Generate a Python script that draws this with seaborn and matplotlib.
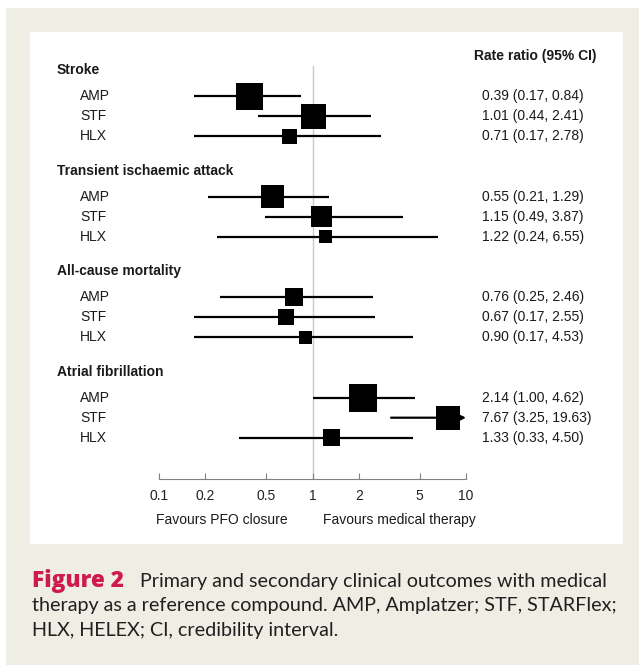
import numpy as np
import pandas as pd
import seaborn as sns
import matplotlib.pyplot as plt
import matplotlib.transforms as mtransforms
from matplotlib.patches import Rectangle


# outcomes / devices and the rate ratios
outcomes = ['Stroke', 'Transient ischaemic attack', 'All-cause mortality', 'Atrial fibrillation']
devices = ['AMP', 'STF', 'HLX']
rate_ratio = [0.39, 1.01, 0.71, 0.55, 1.15, 1.22, 0.76, 0.67, 0.90, 2.14, 7.67, 1.33]
ci_low = [0.17, 0.44, 0.17, 0.21, 0.49, 0.24, 0.25, 0.17, 0.17, 1.00, 3.25, 0.33]
ci_high = [0.84, 2.41, 2.78, 1.29, 3.87, 6.55, 2.46, 2.55, 4.53, 4.62, 19.63, 4.50]
# relative weight of each estimate (drives box size)
weight = [27, 25, 15, 23, 21, 13, 18, 16, 13, 28, 24, 17]

xticks = [0.1, 0.2, 0.5, 1, 2, 5, 10]
xticklabels = ['0.1', '0.2', '0.5', '1', '2', '5', '10']

caption_head = 'Figure 2'
caption_lines = ['Primary and secondary clinical outcomes with medical',
                 'therapy as a reference compound. AMP, Amplatzer; STF, STARFlex;',
                 'HLX, HELEX; CI, credibility interval.']


rows = []
for g, outcome in enumerate(outcomes):
    for d, dev in enumerate(devices):
        k = g * 3 + d
        rows.append({'outcome': outcome, 'device': dev, 'pos': g * 5 + d,
                     'rr': rate_ratio[k], 'lo': ci_low[k], 'hi': ci_high[k],
                     'area': (weight[k] * 0.72) ** 2})
df = pd.DataFrame(rows)

sns.set_theme(style='white')
plt.rcParams['font.family'] = ['Liberation Sans', 'DejaVu Sans']

W, H = 639, 665
fig = plt.figure(figsize=(W / 100, H / 100), dpi=100)
fig.patch.set_facecolor('white')
fig.patches.append(Rectangle((6 / W, 0), 633 / W, 657 / H, transform=fig.transFigure,
                             facecolor='#eeeee4', edgecolor='none', zorder=-2))
fig.patches.append(Rectangle((30 / W, 121 / H), 593 / W, 512 / H, transform=fig.transFigure,
                             facecolor='white', edgecolor='none', zorder=-1))

ax = fig.add_axes([159 / W, 186 / H, 307 / W, 413 / H])
ax.patch.set_visible(False)
ax.set_xscale('log')
ax.set_xlim(0.1, 10)
ax.set_ylim(19.05, -1.5)

ax.axvline(1, color='#c9c9c9', lw=1, zorder=0)

xmax = ax.get_xlim()[1]
inside = df[df['hi'] <= xmax]
ax.hlines(inside['pos'], inside['lo'], inside['hi'], color='black', lw=1.6, zorder=2)
for _, r in df[df['hi'] > xmax].iterrows():
    ax.annotate('', xy=(xmax, r['pos']), xytext=(r['lo'], r['pos']),
                arrowprops=dict(arrowstyle='-|>', lw=1.6, color='black',
                                mutation_scale=8, shrinkA=0, shrinkB=0))

sns.scatterplot(data=df, x='rr', y='pos', size='area', sizes=(df['area'].min(), df['area'].max()),
                size_norm=(df['area'].min(), df['area'].max()), marker='s', color='black',
                linewidth=0, legend=False, ax=ax, zorder=3)

ax.set_xlabel('')
ax.set_ylabel('')
ax.set_yticks([])
ax.set_xticks(xticks)
ax.set_xticklabels(xticklabels)
ax.minorticks_off()
ax.tick_params(axis='x', direction='in', length=4, width=0.8, color='#808080',
               pad=7, labelsize=10, labelcolor='#222222', bottom=True)
for s in ['top', 'right', 'left']:
    ax.spines[s].set_visible(False)
ax.spines['bottom'].set_color('#808080')
ax.spines['bottom'].set_linewidth(0.8)

tr = mtransforms.blended_transform_factory(fig.transFigure, ax.transData)
txt = '#1a1a1a'
ax.text(535 / W, -2.0, 'Rate ratio (95% CI)', transform=tr, ha='center', va='center',
        fontsize=10, fontweight='bold', color=txt)
for g, outcome in enumerate(outcomes):
    ax.text(57 / W, g * 5 - 1.28, outcome, transform=tr, ha='left', va='center',
            fontsize=10, fontweight='bold', color=txt)
for _, r in df.iterrows():
    ax.text(80 / W, r['pos'], r['device'], transform=tr, ha='left', va='center',
            fontsize=10, color=txt)
    ax.text(482 / W, r['pos'], '{:.2f} ({:.2f}, {:.2f})'.format(r['rr'], r['lo'], r['hi']),
            transform=tr, ha='left', va='center', fontsize=10, color=txt)

fig.text(222 / W, 1 - 520 / H, 'Favours PFO closure', ha='center', va='center',
         fontsize=10, color=txt)
fig.text(399 / W, 1 - 520 / H, 'Favours medical therapy', ha='center', va='center',
         fontsize=10, color=txt)

# caption
cap_font = ['Lato', 'DejaVu Sans']
fig.text(32 / W, 1 - 587 / H, caption_head, ha='left', va='baseline', fontsize=16.3,
         fontweight=900, color='#cf1a4f', family=['Open Sans', 'DejaVu Sans'])
fig.text(140 / W, 1 - 587 / H, caption_lines[0], ha='left', va='baseline', fontsize=14.2,
         color='#231f20', family=cap_font)
for i, line in enumerate(caption_lines[1:]):
    fig.text(32 / W, 1 - (611.5 + 24.5 * i) / H, line, ha='left', va='baseline', fontsize=14.2,
             color='#231f20', family=cap_font)

fig.savefig('out.png', dpi=100, facecolor=fig.get_facecolor())
